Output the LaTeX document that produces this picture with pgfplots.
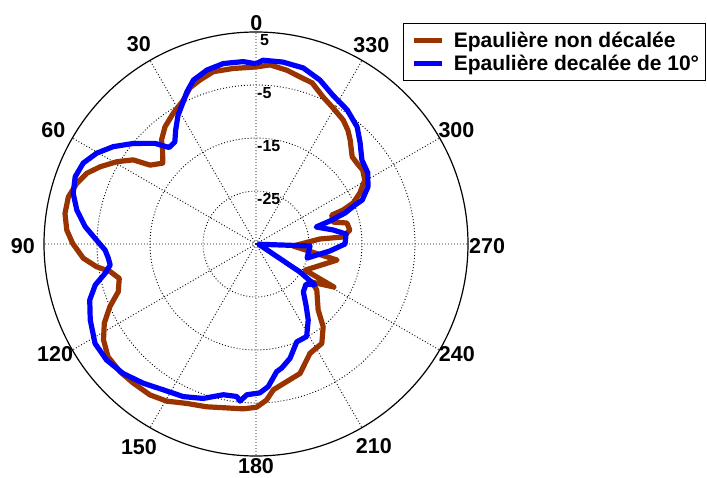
\documentclass[border=0pt]{standalone}
\usepackage{fontspec}
\setmainfont{Liberation Sans}
\usepackage{pgfplots}
\pgfplotsset{compat=1.18}
\usepgfplotslibrary{polar}
\usepackage{pgfplotstable}
\definecolor{brownline}{RGB}{153,51,0}
\definecolor{blueline}{RGB}{0,0,255}

% theta (deg, counter-clockwise from top), gain (dB)
\pgfplotstableread{
theta db
0 -1.6
7.4 -1.6
13.9 -1.5
18.9 -2.3
22.9 -3.0
26.8 -4.6
32.3 -5.8
37.8 -7.0
42.3 -8.5
44.8 -10.0
49.1 -11.7
53.3 -10.1
55.6 -6.9
59.4 -4.5
63.6 -2.2
67.3 -0.4
71.3 0.7
75.9 1.5
80.9 1.5
85.8 0.8
89.8 -0.4
94.7 -2.3
98.1 -4.6
100.7 -7.0
104.1 -8.4
109.1 -7.5
113.2 -5.0
117.6 -2.7
122.2 -1.0
127.3 0.1
133.2 0.2
138.6 0.0
144.9 -0.2
150.4 -0.9
156.5 -2.2
163.1 -2.9
170.1 -3.6
175.6 -3.8
180.2 -4.2
183.9 -5.5
186.8 -7.3
192.6 -8.4
198.8 -9.2
206.3 -12.0
213.5 -12.5
219.1 -14.9
223.3 -17.9
232.8 -20.6
235.8 -22.2
241.1 -18.2
242.0 -24.5
258.8 -19.4
266.9 -28.0
274.5 -22.9
274.6 -18.5
278.5 -17.1
283.0 -17.4
285.9 -19.9
290.9 -19.7
291.3 -17.4
292.9 -15.1
296.1 -13.2
300.4 -11.2
304.7 -10.5
308.7 -10.6
312.2 -10.5
317.9 -8.5
321.1 -7.4
324.9 -6.4
330.5 -5.5
335.5 -4.5
340.8 -2.8
345.2 -2.4
349.9 -1.7
355.5 -1.1
360 -1.6
}\brownA

\pgfplotstableread{
theta db
0 -1.0
4.0 -0.5
10.3 -0.4
15.8 -0.9
20.9 -1.9
24.5 -3.5
27.4 -5.0
31.2 -6.6
35.2 -8.7
38.5 -10.4
42.0 -10.5
45.1 -8.1
50.6 -5.1
55.7 -2.4
60.3 -0.4
64.9 1.0
69.6 1.4
74.5 0.8
79.3 -0.6
84.2 -2.6
88.6 -4.9
92.3 -6.5
95.4 -7.0
98.2 -7.2
101.0 -6.0
104.3 -3.7
108.6 -1.9
114.6 -0.6
121.7 0.7
127.8 0.7
134.3 0.0
141.0 -1.2
147.6 -2.4
154.5 -3.1
161.1 -4.2
167.8 -5.9
172.8 -6.0
174.2 -5.2
176.5 -6.5
181.5 -6.9
184.9 -8.0
189.2 -10.6
191.7 -11.1
196.6 -12.5
202.6 -15.0
208.7 -15.1
214.5 -17.6
219.3 -20.1
224.7 -22.3
231.3 -22.9
235.2 -21.5
237.5 -25.2
265 -34.5
267.9 -24.8
254.6 -25.0
264.6 -21.0
270 -18.2
276.3 -17.9
280.3 -20.2
285.8 -23.2
287.3 -20.4
289.2 -17.2
291.5 -14.9
292.5 -13.3
297.0 -11.3
302.4 -10.0
308.4 -9.5
314.2 -7.6
319.2 -5.8
325.8 -4.4
332.7 -3.4
338.7 -1.8
345.0 -0.6
351.6 -0.3
357.8 -0.3
360 -1.0
}\blueB

\begin{document}
\begin{tikzpicture}
\useasboundingbox (0,0) rectangle (707pt,477pt);
\begin{polaraxis}[
  at={(256pt,233pt)}, anchor=center,
  width=424pt, height=424pt, scale only axis,
  ymin=0, ymax=40,
  xtick={0,30,...,330},
  ytick={10,20,30},
  xticklabels={}, yticklabels={},
  major tick length=0pt,
  grid=major,
  major grid style={black, line width=0.9pt, dash pattern=on 0.9pt off 2.1pt},
  x axis line style={black, line width=1.2pt},
  y axis line style={draw=none},
  clip=false,
  legend cell align=left,
  legend style={at={(0.847,1.021)}, anchor=north west, draw=black, line width=0.9pt,
    fill=white, font=\bfseries\fontsize{21}{24}\selectfont,
    inner xsep=4pt, inner ysep=6.5pt, row sep=2pt, column sep=7pt,
    nodes={inner sep=2pt}},
  /pgfplots/legend image code/.code={\path (0pt,0pt); \draw[#1] (4pt,0pt) -- (32pt,0pt);},
]
\addplot[brownline, line width=5.2pt, line join=round, no markers]
  table[x expr=\thisrow{theta}+90, y expr=\thisrow{db}+35] {\brownA};
\addlegendentry{Epaulière non décalée}
\addplot[blueline, line width=5.2pt, line join=round, no markers]
  table[x expr=\thisrow{theta}+90, y expr=\thisrow{db}+35] {\blueB};
\addlegendentry{Epaulière decalée de 10°}

% radial labels
\begin{scope}[every node/.style={anchor=north west, inner sep=1pt, yshift=-1pt,
    font=\bfseries\fontsize{16}{18}\selectfont}]
\node at (axis cs:90,10) {-25};
\node at (axis cs:90,20) {-15};
\node at (axis cs:90,30) {-5};
\node[xshift=3pt] at (axis cs:90,40) {5};
\end{scope}
% angular labels
\begin{scope}[every node/.style={anchor=center, inner sep=0pt,
    font=\bfseries\fontsize{21.5}{24}\selectfont}]
\node at (axis cs:89.9,41.7) {0};
\node at (axis cs:120.4,43.7) {30};
\node at (axis cs:150.6,43.9) {60};
\node at (axis cs:180.5,44.0) {90};
\node at (axis cs:208.7,43.2) {120};
\node at (axis cs:240.1,44.3) {150};
\node at (axis cs:270,41.9) {180};
\node at (axis cs:300.2,44.2) {210};
\node at (axis cs:331.3,43.2) {240};
\node at (axis cs:359.4,43.6) {270};
\node at (axis cs:29.6,43.5) {300};
\node at (axis cs:59.9,43.4) {330};
\end{scope}
\end{polaraxis}
\end{tikzpicture}
\end{document}
